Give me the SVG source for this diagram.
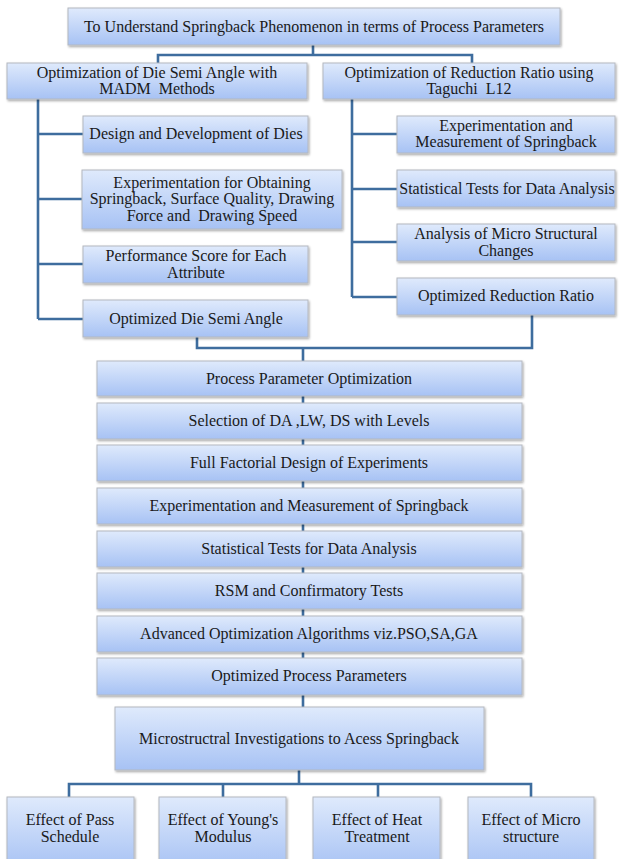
<svg xmlns="http://www.w3.org/2000/svg" width="619" height="859" viewBox="0 0 619 859">
<defs>
<linearGradient id="g" x1="0" y1="0" x2="0" y2="1">
<stop offset="0" stop-color="#dfeafc"/>
<stop offset="1" stop-color="#a7c2f4"/>
</linearGradient>
<filter id="sh" x="-5%" y="-10%" width="110%" height="130%">
<feDropShadow dx="1" dy="1.5" stdDeviation="1" flood-color="#000" flood-opacity="0.35"/>
</filter>
</defs>
<style>
.b{fill:url(#g);stroke:#b4b8c0;stroke-width:1;filter:url(#sh)}
.t{font-family:"Liberation Serif","Times New Roman",serif;font-size:16px;fill:#1a1a1a;text-anchor:middle;white-space:pre}
.c{fill:none;stroke:#3e6d9e;stroke-width:2.6}
</style>
<rect width="619" height="859" fill="#fff"/>
<g id="connectors">
<path class="c" d="M313 45V55M158 63V55H472V63"/>
<path class="c" d="M38 99V319M38 134H83M38 199H82M38 264H83M38 319H83"/>
<path class="c" d="M352 99V297M352 134H397M352 189H397M352 242H397M352 297H397"/>
<path class="c" d="M197 337V348H532V315M303 348V361"/>
<path class="c" d="M303 396V403M303 439V445M303 481V488M303 524V531M303 567V573M303 609V616M303 652V658M303 695V707"/>
<path class="c" d="M299 770V784M69 797V784H531V797M223 784V797M378 784V797"/>
</g>
<g id="n-top"><rect class="b" x="68" y="8" width="492" height="37"/><text class="t" x="314" y="32">To Understand Springback Phenomenon in terms of Process Parameters</text></g>
<g id="n-left"><rect class="b" x="7" y="63" width="300" height="36"/><text class="t" x="157" y="78">Optimization of Die Semi Angle with</text><text class="t" x="157" y="94">MADM  Methods</text></g>
<g id="n-right"><rect class="b" x="323" y="63" width="292" height="36"/><text class="t" x="469" y="78">Optimization of Reduction Ratio using</text><text class="t" x="469" y="94">Taguchi  L12</text></g>
<g id="n-l1"><rect class="b" x="83" y="116" width="225" height="37"/><text class="t" x="196" y="139">Design and Development of Dies</text></g>
<g id="n-l2"><rect class="b" x="82" y="170" width="260" height="59"/><text class="t" x="212" y="188">Experimentation for Obtaining</text><text class="t" x="212" y="204">Springback, Surface Quality, Drawing</text><text class="t" x="212" y="221">Force and  Drawing Speed</text></g>
<g id="n-l3"><rect class="b" x="83" y="246" width="225" height="37"/><text class="t" x="196" y="261">Performance Score for Each</text><text class="t" x="196" y="278">Attribute</text></g>
<g id="n-l4"><rect class="b" x="83" y="300" width="225" height="37"/><text class="t" x="196" y="324">Optimized Die Semi Angle</text></g>
<g id="n-r1"><rect class="b" x="397" y="116" width="218" height="37"/><text class="t" x="506" y="131">Experimentation and</text><text class="t" x="506" y="147">Measurement of Springback</text></g>
<g id="n-r2"><rect class="b" x="397" y="170" width="218" height="37"/><text class="t" x="507" y="194">Statistical Tests for Data Analysis</text></g>
<g id="n-r3"><rect class="b" x="397" y="224" width="218" height="37"/><text class="t" x="506" y="239">Analysis of Micro Structural</text><text class="t" x="506" y="256">Changes</text></g>
<g id="n-r4"><rect class="b" x="397" y="278" width="218" height="37"/><text class="t" x="506" y="301">Optimized Reduction Ratio</text></g>
<g id="n-c1"><rect class="b" x="97" y="361" width="425" height="35"/><text class="t" x="309" y="384">Process Parameter Optimization</text></g>
<g id="n-c2"><rect class="b" x="97" y="403" width="425" height="36"/><text class="t" x="309" y="426">Selection of DA ,LW, DS with Levels</text></g>
<g id="n-c3"><rect class="b" x="97" y="445" width="425" height="36"/><text class="t" x="309" y="468">Full Factorial Design of Experiments</text></g>
<g id="n-c4"><rect class="b" x="97" y="488" width="425" height="36"/><text class="t" x="309" y="511">Experimentation and Measurement of Springback</text></g>
<g id="n-c5"><rect class="b" x="97" y="531" width="425" height="36"/><text class="t" x="309" y="554">Statistical Tests for Data Analysis</text></g>
<g id="n-c6"><rect class="b" x="97" y="573" width="425" height="36"/><text class="t" x="309" y="596">RSM and Confirmatory Tests</text></g>
<g id="n-c7"><rect class="b" x="97" y="616" width="425" height="36"/><text class="t" x="309" y="639">Advanced Optimization Algorithms viz.PSO,SA,GA</text></g>
<g id="n-c8"><rect class="b" x="97" y="658" width="425" height="37"/><text class="t" x="309" y="681">Optimized Process Parameters</text></g>
<g id="n-micro"><rect class="b" x="115" y="707" width="369" height="63"/><text class="t" x="299" y="744">Microstructral Investigations to Acess Springback</text></g>
<g id="n-e1"><rect class="b" x="7" y="797" width="127" height="72"/><text class="t" x="70" y="825">Effect of Pass</text><text class="t" x="70" y="842">Schedule</text></g>
<g id="n-e2"><rect class="b" x="159" y="797" width="127" height="72"/><text class="t" x="223" y="825">Effect of Young's</text><text class="t" x="223" y="842">Modulus</text></g>
<g id="n-e3"><rect class="b" x="313" y="797" width="127" height="72"/><text class="t" x="377" y="825">Effect of Heat</text><text class="t" x="377" y="842">Treatment</text></g>
<g id="n-e4"><rect class="b" x="468" y="797" width="126" height="72"/><text class="t" x="531" y="825">Effect of Micro</text><text class="t" x="531" y="842">structure</text></g>
</svg>
